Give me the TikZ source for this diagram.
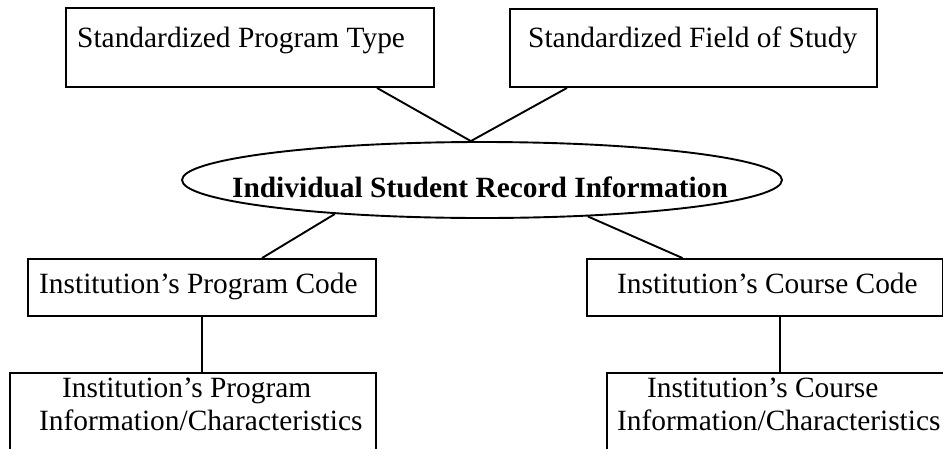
\documentclass[tikz,border=0pt]{standalone}
\usepackage{fontspec}
\setmainfont{Liberation Serif}
\usetikzlibrary{shapes.geometric}
\begin{document}
\begin{tikzpicture}[x=1pt,y=-1pt,
  box/.style={draw,line width=1.9pt,rectangle,inner sep=0pt},
  txt/.style={anchor=base west,inner sep=0pt,font=\fontsize{29.4}{33}\selectfont},
  conn/.style={line width=1.9pt}]
\useasboundingbox (0,0) rectangle (943,448);
\clip (0,0) rectangle (943,448);
% top boxes
\node[box,minimum width=368pt,minimum height=79pt] (b1) at (250,47.5) {};
\node[txt] (t1) at (77,47) {Standardized Program Type};
\node[box,minimum width=367pt,minimum height=78pt] (b2) at (693.5,48) {};
\node[txt] (t2) at (528,47) {Standardized Field of Study};
% ellipse
\node[draw,ellipse,line width=1.9pt,inner sep=0pt,minimum width=600pt,minimum height=76pt] (e) at (482,180) {};
\node[txt,font=\fontsize{29.4}{33}\selectfont\bfseries,anchor=base] (te) at (480,197) {Individual Student Record Information};
% middle boxes
\node[box,minimum width=348pt,minimum height=57pt] (b3) at (202,287.5) {};
\node[txt] (t3) at (39,293) {Institution’s Program Code};
\node[box,minimum width=356pt,minimum height=57pt] (b5) at (765,287.5) {};
\node[txt] (t5) at (617,293) {Institution’s Course Code};
% bottom boxes
\node[box,minimum width=366pt,minimum height=100pt] (b4) at (193,423) {};
\node[txt] (t4a) at (62,397) {Institution’s Program};
\node[txt] (t4b) at (39,430) {Information/Characteristics};
\node[box,minimum width=360pt,minimum height=100pt] (b6) at (787,423) {};
\node[txt] (t6a) at (647,397) {Institution’s Course};
\node[txt] (t6b) at (617,430) {Information/Characteristics};
% connectors
\draw[conn] ([xshift=127pt]b1.south) -- (e.106);
\draw[conn] ([xshift=-126.5pt]b2.south) -- (e.106);
\draw[conn] (e.193) -- ([xshift=60pt]b3.north);
\draw[conn] (e.341) -- ([xshift=-82.5pt]b5.north);
\draw[conn] (b3.south) -- (b3.south |- b4.north);
\draw[conn] ([xshift=15pt]b5.south) -- ([xshift=15pt]b5.south |- b6.north);
\end{tikzpicture}
\end{document}
